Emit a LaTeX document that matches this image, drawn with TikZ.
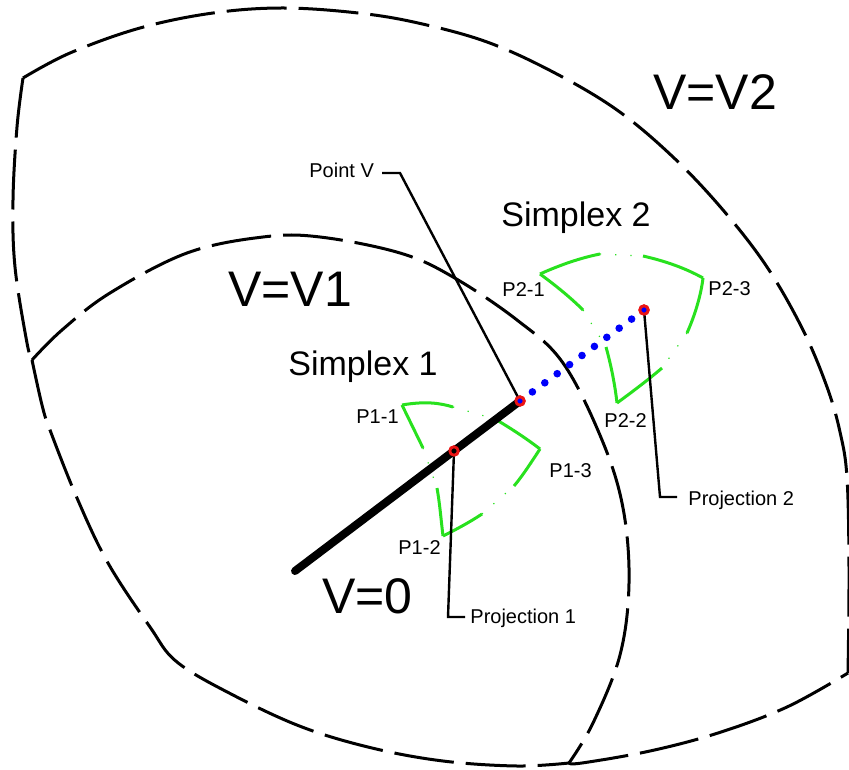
\documentclass[tikz,border=0pt]{standalone}
\usepackage{fontspec}
\setmainfont{Liberation Sans}
\definecolor{lgreen}{RGB}{40,225,30}
\definecolor{rred}{RGB}{235,20,20}
\definecolor{bblue}{RGB}{0,0,250}
\newcommand\fsBig{\fontsize{25}{30}\selectfont}
\newcommand\fsMid{\fontsize{17}{20}\selectfont}
\newcommand\fsSmall{\fontsize{10}{12}\selectfont}
\begin{document}
\begin{tikzpicture}[x=0.5pt,y=-0.5pt,
  bound/.style={line width=1.5pt, dash pattern=on 30pt off 6pt},
  simp/.style={draw=lgreen, line width=1.5pt},
  faint/.style={draw=lgreen, line width=0.6pt, dash pattern=on 0.6pt off 7pt},
  thickline/.style={line width=4pt, line cap=round},
  leader/.style={line width=1.2pt},
  bluedot/.style={draw=bblue, line width=3.8pt, line cap=round, dash pattern=on 0pt off 7.69pt},
  redpt/.style={circle, draw=rred, line width=1.4pt, minimum size=4.2pt, inner sep=0pt},
  lab/.style={inner sep=0pt, anchor=base west}]
\useasboundingbox (0,0) rectangle (849,769);

% level sets
\draw[bound] plot[smooth, tension=0.6] coordinates {(23,78) (70,53) (140,28) (213,13) (283,8) (358,13) (418,23) (487,42) (553,72) (617,110) (673,157) (723,210) (767,267) (803,330) (827,387) (840,432) (847,478) (849,570) (848,673)};
\draw[bound] plot[smooth, tension=0.6] coordinates {(23,78) (17,127) (13,200) (15,267) (27,343) (32,360)};
\draw[bound] plot[smooth, tension=0.6] coordinates {(32,360) (42,405) (50,430) (77,498) (108,563) (150,627) (177,662) (233,695) (302,727) (372,748) (443,761) (517,766) (569,763)};
\draw[bound] plot[smooth, tension=0.6] coordinates {(32,360) (62,330) (110,293) (187,253) (263,237) (320,237) (400,253) (453,277) (517,320) (563,363) (602,440) (623,508) (629,583) (620,655) (593,723) (569,763)};
\draw[bound] plot[smooth, tension=0.6] coordinates {(569,763) (582,763) (650,751) (718,733) (787,707) (848,673)};

% simplex 1
\draw[simp] (402,405) .. controls (425,401) and (440,403) .. (453,407);
\draw[faint] (453,407) -- (495,419);
\draw[simp] (495,419) .. controls (512,429) and (527,439) .. (540,449);
\draw[simp] (402,405) -- (423,448);
\draw[faint] (423,448) -- (437,488);
\draw[simp] (437,488) .. controls (440,505) and (441,520) .. (443,536);
\draw[simp] (443,536) .. controls (457,529) and (470,522) .. (482,514);
\draw[faint] (482,514) -- (514,486);
\draw[simp] (514,486) .. controls (524,474) and (532,461) .. (540,449);

% simplex 2
\draw[simp] (540,274) .. controls (560,265) and (580,258) .. (600,254);
\draw[faint] (600,254) -- (643,256);
\draw[simp] (643,256) .. controls (665,261) and (685,268) .. (703,278);
\draw[simp] (540,274) .. controls (555,285) and (570,297) .. (583,310);
\draw[faint] (583,310) -- (606,347);
\draw[simp] (606,347) .. controls (611,365) and (615,385) .. (617,403);
\draw[simp] (703,278) .. controls (701,295) and (695,315) .. (687,333);
\draw[faint] (687,333) -- (662,368);
\draw[simp] (662,368) .. controls (648,380) and (632,392) .. (617,403);

% points
\coordinate (v0) at (295,571);
\node[redpt] (pv) at (520,401) {};
\node[redpt] (pp1) at (454,451) {};
\node[redpt] (pp2) at (644,310) {};

% labels
\node[lab] (lv2) at (653,110) {\fsBig V=V2};
\node[lab] (lv1) at (228,307) {\fsBig V=V1};
\node[lab] (lv0) at (322,613) {\fsBig V=0};
\node[lab] (ls1) at (288,375) {\fsMid Simplex 1};
\node[lab] (ls2) at (501,227) {\fsMid Simplex 2};
\node[lab] (lpv) at (309,178) {\fsSmall Point V};
\node[lab] (l11) at (356,423) {\fsSmall P1-1};
\node[lab] (l12) at (398,554) {\fsSmall P1-2};
\node[lab] (l13) at (549,477) {\fsSmall P1-3};
\node[lab] (l21) at (502,297) {\fsSmall P2-1};
\node[lab] (l22) at (604,427) {\fsSmall P2-2};
\node[lab] (l23) at (708,296) {\fsSmall P2-3};
\node[lab] (lp1) at (470,623) {\fsSmall Projection 1};
\node[lab] (lp2) at (688,505) {\fsSmall Projection 2};

% path and leaders
\draw[thickline] (v0) -- (pv.center);
\coordinate (pvA) at (382,173);
\coordinate (pvB) at (400,173);
\coordinate (p1B) at (448,617);
\coordinate (p1A) at (465,617);
\coordinate (p2B) at (660,497);
\coordinate (p2A) at (677,497);
\draw[leader] (pvA) -- (pvB) -- (pv.center);
\draw[leader] (pp1.center) -- (p1B) -- (p1A);
\draw[leader] (pp2.center) -- (p2B) -- (p2A);
\draw[bluedot] (pv.center) -- (pp2.center);
\node[redpt] at (pv) {};
\node[redpt] at (pp1) {};
\node[redpt] at (pp2) {};
\end{tikzpicture}
\end{document}
